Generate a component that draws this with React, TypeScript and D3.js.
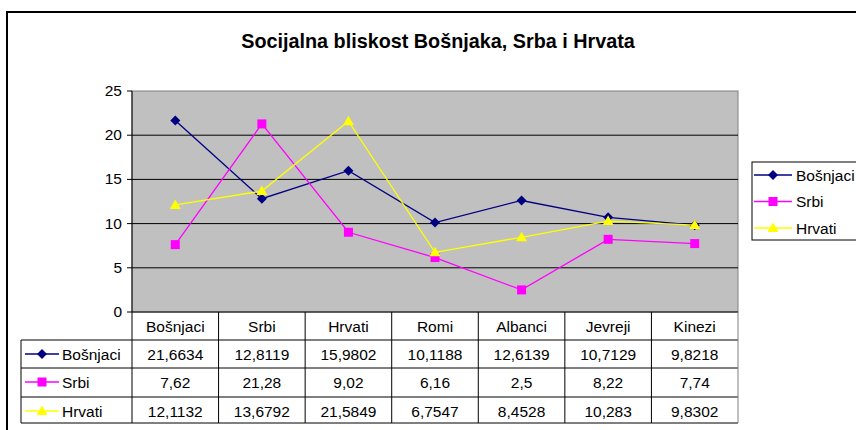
import React from "react";
import * as d3 from "d3";

const categories = ["Bošnjaci", "Srbi", "Hrvati", "Romi", "Albanci", "Jevreji", "Kinezi"];
const bosnjaci = [21.6634, 12.8119, 15.9802, 10.1188, 12.6139, 10.7129, 9.8218];
const srbi = [7.62, 21.28, 9.02, 6.16, 2.5, 8.22, 7.74];
const hrvati = [12.1132, 13.6792, 21.5849, 6.7547, 8.4528, 10.283, 9.8302];
const bosnjaciLabels = ["21,6634", "12,8119", "15,9802", "10,1188", "12,6139", "10,7129", "9,8218"];
const srbiLabels = ["7,62", "21,28", "9,02", "6,16", "2,5", "8,22", "7,74"];
const hrvatiLabels = ["12,1132", "13,6792", "21,5849", "6,7547", "8,4528", "10,283", "9,8302"];
const yTicks = [0, 5, 10, 15, 20, 25];

const seriesList = [
  { name: "Bošnjaci", values: bosnjaci, labels: bosnjaciLabels, color: "#000080", marker: "diamond" },
  { name: "Srbi", values: srbi, labels: srbiLabels, color: "#FF00FF", marker: "square" },
  { name: "Hrvati", values: hrvati, labels: hrvatiLabels, color: "#FFFF00", marker: "triangle" },
];

const FONT = "'Liberation Sans', Arial, sans-serif";

function Marker({ type, x, y, color }: { type: string; x: number; y: number; color: string }) {
  if (type === "diamond") {
    return <path d={`M${x},${y - 5}L${x + 5},${y}L${x},${y + 5}L${x - 5},${y}Z`} fill={color} />;
  }
  if (type === "square") {
    return <rect x={x - 4.5} y={y - 4.5} width={9} height={9} fill={color} />;
  }
  return <path d={`M${x},${y - 5.5}L${x + 5.5},${y + 4}L${x - 5.5},${y + 4}Z`} fill={color} />;
}

export default function App() {
  const W = 856, H = 430;
  const left = 132, right = 738, top = 91, bottom = 312;
  const x = d3.scaleBand<string>().domain(categories).range([left, right]);
  const y = d3.scaleLinear().domain([0, 25]).range([bottom, top]);
  const line = d3.line<number>().x((_, i) => (x(categories[i]) as number) + x.bandwidth() / 2).y((d) => y(d));
  const rowTops = [340, 368, 397];
  const tableBottom = 423;
  const tableLeft = 21;
  return (
    <svg width={W} height={H} style={{ position: "absolute", left: 0, top: 0 }} fontFamily={FONT}>
      <rect x={0} y={0} width={W} height={H} fill="#fff" />
      <rect x={7} y={12} width={W + 10} height={H + 10} fill="none" stroke="#000" strokeWidth={2} />
      <text x={438} y={48} textAnchor="middle" fontSize={19.8} fontWeight="bold">
        Socijalna bliskost Bošnjaka, Srba i Hrvata
      </text>
      {/* plot area */}
      <rect x={left} y={top} width={right - left} height={bottom - top} fill="#C0C0C0" stroke="#808080" strokeWidth={1} />
      {yTicks.filter((t) => t > 0 && t < 25).map((t) => (
        <line key={t} x1={left} x2={right} y1={y(t)} y2={y(t)} stroke="#000" strokeWidth={1} />
      ))}
      {/* y axis */}
      <line x1={left} x2={left} y1={top} y2={bottom} stroke="#000" />
      {yTicks.map((t) => (
        <g key={t}>
          <line x1={left - 5} x2={left} y1={y(t)} y2={y(t)} stroke="#000" />
          <text x={left - 10} y={y(t) + 5} textAnchor="end" fontSize={15.5}>
            {t}
          </text>
        </g>
      ))}
      {/* series */}
      {seriesList.map((s) => (
        <g key={s.name}>
          <path d={line(s.values) || ""} fill="none" stroke={s.color} strokeWidth={1.3} />
          {s.values.map((v, i) => (
            <Marker key={i} type={s.marker} x={(x(categories[i]) as number) + x.bandwidth() / 2} y={y(v)} color={s.color} />
          ))}
        </g>
      ))}
      {/* data table */}
      <line x1={left} x2={right} y1={bottom} y2={bottom} stroke="#000" />
      {rowTops.concat([tableBottom]).map((ry) => (
        <line key={ry} x1={tableLeft} x2={right} y1={ry} y2={ry} stroke="#000" />
      ))}
      <line x1={tableLeft} x2={tableLeft} y1={rowTops[0]} y2={tableBottom} stroke="#000" />
      {categories.map((c) => (
        <line key={c} x1={x(c) as number} x2={x(c) as number} y1={bottom} y2={tableBottom} stroke="#000" />
      ))}
      <line x1={right} x2={right} y1={bottom} y2={tableBottom} stroke="#808080" />
      {categories.map((c) => (
        <text key={c} x={(x(c) as number) + x.bandwidth() / 2} y={332} textAnchor="middle" fontSize={15.5}>
          {c}
        </text>
      ))}
      {seriesList.map((s, r) => (
        <g key={s.name}>
          <line x1={25} x2={59} y1={rowTops[r] + 14} y2={rowTops[r] + 14} stroke={s.color} strokeWidth={1.3} />
          <Marker type={s.marker} x={42} y={rowTops[r] + 14} color={s.color} />
          <text x={62} y={rowTops[r] + 20} fontSize={15.5}>
            {s.name}
          </text>
          {s.labels.map((lab, i) => (
            <text key={i} x={(x(categories[i]) as number) + x.bandwidth() / 2} y={rowTops[r] + 20} textAnchor="middle" fontSize={15.5}>
              {lab}
            </text>
          ))}
        </g>
      ))}
      {/* legend */}
      <rect x={752} y={162} width={120} height={78} fill="#fff" stroke="#000" />
      {seriesList.map((s, r) => {
        const ly = 175 + r * 26.5;
        return (
          <g key={s.name}>
            <line x1={754} x2={792} y1={ly} y2={ly} stroke={s.color} strokeWidth={1.3} />
            <Marker type={s.marker} x={773} y={ly} color={s.color} />
            <text x={796} y={ly + 5.5} fontSize={15.5}>
              {s.name}
            </text>
          </g>
        );
      })}
    </svg>
  );
}
